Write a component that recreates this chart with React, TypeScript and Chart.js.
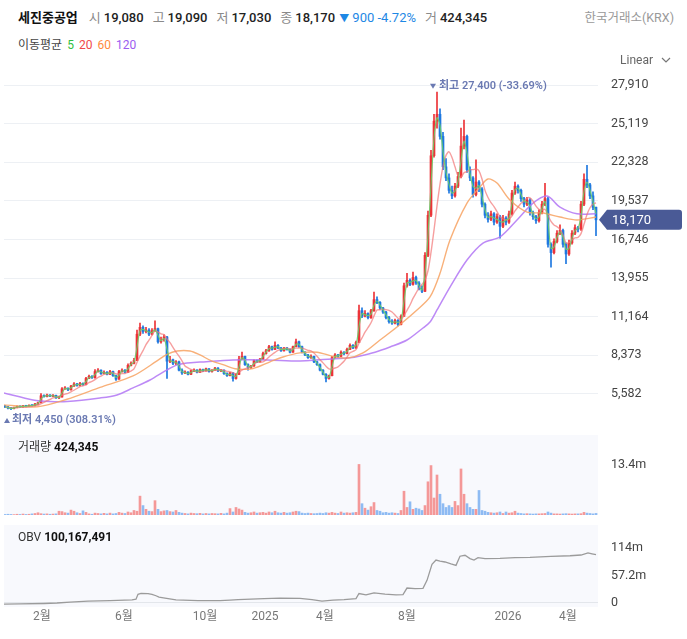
import { useEffect, useRef } from "react";
import { Chart, registerables } from "chart.js";

Chart.register(...registerables);

const FONT = "Roboto, 'Noto Sans CJK KR', 'Noto Sans', sans-serif";

// ---- candle data (each candle ~3 trading days) ----
const opens = [
  4700, 4640, 4570, 4520, 4600, 4690, 4640, 4720, 4690, 4760,
  4730, 4850, 4960, 5450, 5400, 5500, 5420, 5480, 5300, 5360,
  5950, 6000, 5880, 6150, 6300, 6200, 6350, 6260, 6700, 6850,
  6750, 7200, 7300, 7050, 7150, 7000, 7200, 6900, 6650, 7200,
  7300, 7150, 7650, 7800, 8000, 9900, 10400, 10100, 10200, 9900,
  10150, 10300, 9350, 9500, 9700, 7950, 8050, 7800, 7900, 7300,
  7100, 7150, 7000, 7250, 7300, 7150, 7350, 7250, 7400, 7200,
  7300, 7450, 7250, 7300, 7050, 6900, 7100, 6700, 7000, 8100,
  8300, 7700, 7500, 7600, 8000, 7900, 8100, 8500, 8700, 9000,
  8800, 9100, 8900, 8700, 8900, 8800, 8600, 9000, 9350, 9000,
  8600, 8400, 8200, 8300, 7900, 7700, 7300, 7000, 6700, 6900,
  8200, 8400, 8300, 8600, 8500, 8800, 9100, 8900, 9300, 11600,
  11200, 11400, 11100, 11600, 12400, 12200, 11800, 11500, 11100, 10800,
  10700, 10900, 10600, 11200, 13400, 13800, 13500, 14000, 13600, 13200,
  13000, 15600, 18500, 22800, 25300, 25800, 24200, 22000, 21200, 20300,
  19900, 20600, 21300, 23500, 24200, 21800, 21200, 20000, 20900, 20400,
  19300, 18500, 18200, 18600, 18000, 18400, 17700, 18300, 18000, 18600,
  20100, 20600, 20300, 19700, 19300, 19600, 18700, 18400, 18100, 18700,
  19300, 19700, 16400, 15800, 16600, 17200, 17400, 16400, 15700, 16500,
  17200, 17600, 17500, 19300, 21100, 20700, 19900, 19080,
];
const highs = [
  4760, 4680, 4610, 4640, 4720, 4720, 4760, 4750, 4800, 4790,
  4900, 5000, 5600, 5520, 5580, 5540, 5530, 5500, 5400, 6050,
  6120, 6030, 6200, 6400, 6350, 6420, 6380, 6780, 6950, 6900,
  7350, 7420, 7330, 7250, 7200, 7280, 7230, 6950, 7280, 7400,
  7350, 7750, 7900, 8150, 10200, 10700, 10500, 10400, 10300, 10300,
  10860, 10350, 9700, 9850, 9750, 8300, 8100, 8000, 7950, 7400,
  7250, 7200, 7300, 7400, 7350, 7400, 7380, 7450, 7420, 7350,
  7500, 7480, 7350, 7320, 7100, 7150, 7120, 7050, 8300, 8600,
  8320, 7750, 7650, 8050, 8050, 8150, 8600, 8800, 9100, 9050,
  9350, 9150, 8950, 8950, 8950, 8850, 9050, 9550, 9400, 9050,
  8650, 8450, 8400, 8320, 7950, 7750, 7350, 7050, 6950, 8300,
  8500, 8450, 8700, 8650, 8900, 9200, 9150, 9400, 12000, 11800,
  11600, 11450, 11700, 12950, 12600, 12250, 11850, 11550, 11200, 10950,
  11000, 10950, 11300, 13600, 14300, 13900, 14400, 14100, 13700, 13400,
  15800, 18800, 23200, 25800, 27400, 26200, 24500, 22600, 21500, 20600,
  20800, 21600, 24800, 25380, 24300, 22000, 21300, 22500, 21000, 20500,
  19400, 18700, 18800, 18700, 18600, 18500, 18500, 18400, 18800, 20300,
  20900, 20700, 20400, 19800, 19800, 19700, 18800, 18500, 18900, 19500,
  20800, 19800, 16500, 16800, 17400, 17800, 17500, 16500, 16700, 17400,
  17800, 17700, 19500, 21500, 22100, 20800, 20200, 19090,
];
const lows = [
  4580, 4500, 4450, 4490, 4570, 4600, 4610, 4650, 4660, 4700,
  4710, 4820, 4940, 5340, 5370, 5380, 5390, 5250, 5240, 5340,
  5900, 5820, 5860, 6120, 6150, 6170, 6200, 6240, 6680, 6700,
  6730, 7150, 7000, 7020, 6950, 6980, 6850, 6550, 6630, 7150,
  7100, 7120, 7600, 7750, 7980, 9800, 9950, 10000, 9800, 9850,
  10100, 9250, 9250, 9400, 6700, 7850, 7700, 7700, 7250, 7000,
  7050, 6950, 6980, 7200, 7100, 7120, 7200, 7230, 7150, 7150,
  7280, 7200, 7200, 7000, 6850, 6880, 6500, 6650, 6980, 8050,
  7650, 7300, 7400, 7580, 7850, 7880, 8080, 8450, 8650, 8750,
  8780, 8850, 8650, 8680, 8750, 8550, 8580, 8980, 8950, 8550,
  8350, 8150, 8150, 7850, 7650, 7250, 6950, 6450, 6650, 6880,
  8150, 8200, 8280, 8400, 8480, 8780, 8850, 8880, 9280, 11100,
  11150, 11000, 11050, 11550, 12100, 11700, 11400, 11000, 10700, 10600,
  10650, 10500, 10580, 11180, 13300, 13400, 13450, 13500, 13100, 12900,
  12980, 15500, 18400, 22700, 24800, 24000, 21800, 21000, 20100, 19700,
  19800, 20500, 21200, 23300, 21600, 21000, 19800, 19900, 20200, 19100,
  18300, 18000, 18100, 17800, 17900, 16850, 17600, 17800, 17900, 18500,
  20000, 20100, 19500, 19100, 19200, 18500, 18200, 17900, 18000, 18600,
  19200, 16200, 14750, 15700, 16500, 17100, 16200, 15000, 15600, 16400,
  17100, 17300, 17400, 19200, 20500, 19700, 18900, 17030,
];
const closes = [
  4650, 4560, 4520, 4600, 4680, 4640, 4720, 4690, 4760, 4730,
  4850, 4950, 5450, 5400, 5500, 5420, 5480, 5300, 5350, 5950,
  6000, 5880, 6150, 6300, 6200, 6350, 6250, 6700, 6850, 6750,
  7200, 7300, 7050, 7150, 7000, 7200, 6900, 6650, 7200, 7300,
  7150, 7650, 7800, 8000, 9900, 10400, 10100, 10200, 9900, 10150,
  10300, 9350, 9500, 9700, 7950, 8050, 7800, 7900, 7300, 7100,
  7150, 7000, 7250, 7300, 7150, 7350, 7250, 7400, 7200, 7300,
  7450, 7250, 7300, 7050, 6900, 7100, 6700, 7000, 8100, 8300,
  7700, 7500, 7600, 8000, 7900, 8100, 8500, 8700, 9000, 8800,
  9100, 8900, 8700, 8900, 8800, 8600, 9000, 9350, 9000, 8600,
  8400, 8200, 8300, 7900, 7700, 7300, 7000, 6700, 6900, 8200,
  8400, 8300, 8600, 8500, 8800, 9100, 8900, 9300, 11600, 11200,
  11400, 11100, 11600, 12400, 12200, 11800, 11500, 11100, 10800, 10700,
  10900, 10600, 11200, 13400, 13800, 13500, 14000, 13600, 13200, 13000,
  15600, 18500, 22800, 25300, 25800, 24200, 22000, 21200, 20300, 19900,
  20600, 21300, 23500, 24200, 21800, 21200, 20000, 20900, 20400, 19300,
  18500, 18200, 18600, 18000, 18400, 17700, 18300, 18000, 18600, 20100,
  20600, 20300, 19700, 19300, 19600, 18700, 18400, 18100, 18700, 19300,
  19700, 16400, 15800, 16600, 17200, 17400, 16400, 15700, 16500, 17200,
  17600, 17500, 19300, 21100, 20700, 19900, 19070, 18170,
];
const volumes = [
  150000, 200000, 150000, 100000, 200000, 150000, 250000, 150000, 200000, 300000,
  400000, 600000, 350000, 250000, 300000, 200000, 250000, 300000, 1000000, 900000,
  600000, 500000, 1300000, 1000000, 600000, 400000, 1100000, 700000, 300000, 200000,
  500000, 400000, 300000, 450000, 300000, 500000, 300000, 400000, 700000, 500000,
  400000, 800000, 600000, 1200000, 1000000, 5000000, 2500000, 1500000, 1000000, 900000,
  3800000, 1500000, 900000, 1100000, 1200000, 900000, 800000, 1200000, 700000, 500000,
  400000, 300000, 500000, 400000, 350000, 450000, 300000, 400000, 300000, 400000,
  350000, 300000, 450000, 300000, 500000, 1700000, 800000, 2000000, 1600000, 1300000,
  700000, 500000, 600000, 800000, 500000, 600000, 700000, 500000, 800000, 600000,
  1000000, 600000, 500000, 700000, 500000, 600000, 800000, 1000000, 900000, 500000,
  400000, 500000, 400000, 350000, 400000, 500000, 400000, 600000, 500000, 700000,
  500000, 400000, 800000, 500000, 600000, 500000, 600000, 700000, 13400000, 3000000,
  1800000, 1300000, 2200000, 3300000, 1200000, 1000000, 600000, 700000, 500000, 600000,
  500000, 400000, 1200000, 6300000, 2000000, 3500000, 1500000, 1800000, 1600000, 1200000,
  2500000, 8800000, 13100000, 4500000, 10600000, 5500000, 3000000, 2000000, 2500000, 2000000,
  3600000, 2500000, 12200000, 5500000, 3000000, 2000000, 1500000, 1500000, 6500000, 1200000,
  1000000, 700000, 600000, 500000, 600000, 800000, 400000, 800000, 500000, 600000,
  1000000, 500000, 400000, 300000, 350000, 300000, 250000, 300000, 300000, 350000,
  400000, 800000, 500000, 300000, 300000, 250000, 300000, 350000, 300000, 250000,
  300000, 300000, 350000, 700000, 500000, 400000, 300000, 424345,
];
const CANDLE_STEP = 3; // trading days per candle
const candleDays = closes.map((_, i) => i * CANDLE_STEP);

// ---- long moving averages (trading-day index) ----
const ma60Days = [-1, 32, 62, 95, 128, 152, 162, 172, 185, 195, 207, 218, 230, 248, 265, 278, 295, 312, 328, 343, 358, 375, 392, 412, 425, 435, 445, 462, 475, 483, 492, 505, 522, 538, 555, 572, 591];
const ma60Values = [4790, 4650, 5200, 6050, 6880, 7970, 8450, 8690, 8690, 8400, 7950, 7700, 7400, 7420, 7900, 8255, 8550, 8600, 8300, 8180, 8545, 9480, 10420, 11650, 12590, 14300, 16710, 19380, 20540, 21120, 20830, 19600, 18730, 18660, 18370, 18160, 18370];
const ma120Days = [-1, 28, 45, 62, 95, 112, 128, 145, 162, 172, 182, 195, 228, 262, 295, 318, 328, 345, 355, 370, 385, 402, 418, 425, 432, 445, 462, 478, 495, 512, 528, 542, 555, 572, 591];
const ma120Values = [5650, 5150, 5030, 5030, 5290, 5510, 6020, 6590, 7320, 7680, 7820, 7890, 8040, 8040, 7970, 8080, 8110, 8200, 8330, 8600, 8980, 9480, 10350, 10780, 11650, 13310, 15260, 16490, 16930, 18160, 19380, 19890, 19090, 18600, 18600];

// ---- OBV ----
const obvDays = [-1, 15, 39, 52, 65, 83, 105, 127, 131, 133, 136, 143, 147, 151, 154, 160, 171, 193, 215, 225, 233, 259, 275, 295, 307, 317, 328, 339, 351, 354, 361, 369, 380, 391, 398, 402, 410, 418, 422, 427, 431, 435, 440, 446, 451, 455, 460, 465, 469, 473, 480, 495, 510, 525, 546, 565, 576, 583, 587, 591];
const obvValues = [-2.5e6, -2e6, -1e6, 0, 2e6, 4e6, 5e6, 6.5e6, 8e6, 18e6, 20e6, 19.5e6, 18e6, 15e6, 12e6, 10e6, 6.5e6, 5e6, 5e6, 6e6, 7e6, 9e6, 10e6, 9.5e6, 7e6, 4e6, 6e6, 7e6, 9e6, 19.6e6, 17e6, 21e6, 18.5e6, 17e6, 17.5e6, 31e6, 30e6, 30.5e6, 47e6, 80e6, 89e6, 87e6, 85e6, 81e6, 78e6, 97e6, 99e6, 92e6, 89e6, 94e6, 92e6, 92.5e6, 94e6, 94.5e6, 96.5e6, 98e6, 99.5e6, 104e6, 102e6, 100167491];

// ---- axis ticks ----
const priceTicks = [5582, 8373, 11164, 13955, 16746, 19537, 22328, 25119, 27910];
const volumeTicks = [13.4e6];
const obvTicks = [0, 57.2e6, 114e6];
const xTickDays = [37, 119, 200, 260, 320, 402, 503, 563];
const xTickLabels = ["2월", "6월", "10월", "2025", "4월", "8월", "2026", "4월"];

const MA_PERIODS = [5, 20, 60, 120];
const MA_COLORS = ["#2fbf3f", "#f0484a", "#ff8a3d", "#9b5cf0"];

const UP = "#ec3338";
const DOWN = "#1e78e0";
const VOL_UP = "#f49898";
const VOL_DOWN = "#8ebbf3";
const TAG = "#4a5a96";
const NOTE = "#6a79b2";

const X_MIN = -1;
const X_MAX = 593;
const AXIS_W = 89;

const fmt = (v: number) => Math.round(v).toLocaleString("en-US");
const fmtM = (v: number) => (v === 0 ? "0" : `${+(v / 1e6).toFixed(1)}m`);

function movingAverage(values: number[], window: number) {
  return values.map((_, i) => {
    const s = Math.max(0, i - window + 1);
    const slice = values.slice(s, i + 1);
    return slice.reduce((a, b) => a + b, 0) / slice.length;
  });
}

const pts = (days: number[], vals: number[]) => vals.map((v, i) => ({ x: days[i], y: v }));

const xHidden = () => ({
  type: "linear",
  min: X_MIN,
  max: X_MAX,
  offset: false,
  display: false,
  grid: { offset: false },
});

const rightAxis = (min: number, max: number, ticks: number[], cb: (v: number) => string, gridColor: any) => ({
  type: "linear",
  position: "right",
  min,
  max,
  beginAtZero: false,
  afterFit: (s: any) => {
    s.width = AXIS_W;
    s.paddingTop = 0;
    s.paddingBottom = 0;
  },
  afterBuildTicks: (s: any) => {
    s.ticks = ticks.map((v) => ({ value: v }));
  },
  grid: { color: gridColor, drawTicks: false },
  border: { display: false },
  ticks: {
    padding: 13,
    color: "#444",
    font: { size: 12.5, family: FONT },
    callback: (v: any) => cb(Number(v)),
  },
});

const panelBg = {
  id: "panelBg",
  beforeDraw(chart: any) {
    const { ctx, chartArea } = chart;
    ctx.save();
    ctx.fillStyle = "#f8f9fd";
    ctx.fillRect(chartArea.left, chartArea.top, chartArea.right - chartArea.left, chartArea.bottom - chartArea.top);
    ctx.restore();
  },
};

function triangle(ctx: any, cx: number, cy: number, up: boolean) {
  ctx.beginPath();
  if (up) {
    ctx.moveTo(cx - 3, cy + 2.5);
    ctx.lineTo(cx + 3, cy + 2.5);
    ctx.lineTo(cx, cy - 2.5);
  } else {
    ctx.moveTo(cx - 3, cy - 2.5);
    ctx.lineTo(cx + 3, cy - 2.5);
    ctx.lineTo(cx, cy + 2.5);
  }
  ctx.closePath();
  ctx.fill();
}

const priceOverlay = {
  id: "priceOverlay",
  afterDatasetsDraw(chart: any) {
    const { ctx, chartArea } = chart;
    const x = chart.scales.x;
    const y = chart.scales.y;
    let hi = 0;
    let lo = 0;
    highs.forEach((v, i) => {
      if (v > highs[hi]) hi = i;
    });
    lows.forEach((v, i) => {
      if (v < lows[lo]) lo = i;
    });
    const last = closes[closes.length - 1];
    ctx.save();
    ctx.textBaseline = "middle";
    ctx.textAlign = "left";
    ctx.font = `600 11px ${FONT}`;
    ctx.fillStyle = NOTE;

    const hx = x.getPixelForValue(candleDays[hi]);
    const hy = y.getPixelForValue(highs[hi]) - 6;
    const hiPct = (((last - highs[hi]) / highs[hi]) * 100).toFixed(2);
    triangle(ctx, hx - 4, hy, false);
    ctx.fillText(`최고 ${fmt(highs[hi])} (${hiPct}%)`, hx + 2, hy);

    const lx = x.getPixelForValue(candleDays[lo]);
    const ly = y.getPixelForValue(lows[lo]) + 11;
    const loPct = (((last - lows[lo]) / lows[lo]) * 100).toFixed(2);
    const tx = Math.max(chartArea.left + 3, lx - 4);
    triangle(ctx, tx, ly, true);
    ctx.fillText(`최저 ${fmt(lows[lo])} (${loPct}%)`, tx + 5, ly);

    // last price tag
    const cy = y.getPixelForValue(last);
    const l = chartArea.right + 1;
    const r = chart.width - 5;
    const h = 10;
    ctx.fillStyle = TAG;
    ctx.beginPath();
    ctx.moveTo(l, cy);
    ctx.lineTo(l + 8, cy - h);
    ctx.lineTo(r - 3, cy - h);
    ctx.quadraticCurveTo(r, cy - h, r, cy - h + 3);
    ctx.lineTo(r, cy + h - 3);
    ctx.quadraticCurveTo(r, cy + h, r - 3, cy + h);
    ctx.lineTo(l + 8, cy + h);
    ctx.closePath();
    ctx.fill();
    ctx.fillStyle = "#ffffff";
    ctx.font = `13px ${FONT}`;
    ctx.fillText(fmt(last), chartArea.right + 14, cy + 0.5);
    ctx.restore();
  },
};

function buildPrice(canvas: HTMLCanvasElement) {
  const ma5 = movingAverage(closes, 2);
  const ma20 = movingAverage(closes, 7);
  const candleColor = (c: any) => (closes[c.dataIndex] >= opens[c.dataIndex] ? UP : DOWN);
  const line = (data: any, color: string, width: number) => ({
    type: "line",
    data,
    borderColor: color,
    borderWidth: width,
    pointRadius: 0,
    tension: 0.3,
    order: 0,
  });
  return new Chart(canvas, {
    type: "bar",
    data: {
      datasets: [
        line(pts(candleDays, ma5), "rgba(105,205,105,0.9)", 1.2),
        line(pts(candleDays, ma20), "rgba(242,118,118,0.7)", 1.4),
        line(pts(ma60Days, ma60Values), "rgba(247,162,98,0.85)", 1.4),
        line(pts(ma120Days, ma120Values), "rgba(178,118,245,0.85)", 1.5),
        {
          type: "bar",
          data: closes.map((c, i) => ({ x: candleDays[i], y: [opens[i], c] })),
          backgroundColor: candleColor,
          barThickness: 2,
          minBarLength: 1,
          grouped: false,
          order: 1,
        },
        {
          type: "bar",
          data: closes.map((_, i) => ({ x: candleDays[i], y: [lows[i], highs[i]] })),
          backgroundColor: candleColor,
          barThickness: 1,
          grouped: false,
          order: 2,
        },
      ] as any,
    },
    options: {
      responsive: false,
      animation: false,
      layout: { padding: { left: 4, right: 0, top: 8, bottom: 2 } },
      plugins: { legend: { display: false }, tooltip: { enabled: false } },
      scales: {
        x: xHidden() as any,
        y: rightAxis(2830, 29000, priceTicks, fmt, "#edf0f4") as any,
      },
    },
    plugins: [priceOverlay],
  });
}

function buildVolume(canvas: HTMLCanvasElement) {
  return new Chart(canvas, {
    type: "bar",
    data: {
      datasets: [
        {
          data: volumes.map((v, i) => ({ x: candleDays[i], y: v })),
          backgroundColor: (c: any) => (closes[c.dataIndex] >= opens[c.dataIndex] ? VOL_UP : VOL_DOWN),
          barThickness: 2,
          grouped: false,
        },
      ] as any,
    },
    options: {
      responsive: false,
      animation: false,
      layout: { padding: { left: 4, right: 0, top: 1, bottom: 3 } },
      plugins: { legend: { display: false }, tooltip: { enabled: false } },
      scales: {
        x: xHidden() as any,
        y: rightAxis(0, 21.2e6, volumeTicks, fmtM, "rgba(0,0,0,0)") as any,
      },
    },
    plugins: [panelBg],
  });
}

function buildObv(canvas: HTMLCanvasElement) {
  return new Chart(canvas, {
    type: "line",
    data: {
      datasets: [
        {
          data: pts(obvDays, obvValues),
          borderColor: "#9b9b9b",
          borderWidth: 1.3,
          pointRadius: 0,
        },
      ] as any,
    },
    options: {
      responsive: false,
      animation: false,
      layout: { padding: { left: 4, right: 0, top: 7, bottom: 0 } },
      plugins: { legend: { display: false }, tooltip: { enabled: false } },
      scales: {
        x: {
          type: "linear",
          min: X_MIN,
          max: X_MAX,
          offset: false,
          position: "bottom",
          afterFit: (s: any) => {
            s.height = 32;
            s.paddingLeft = 0;
            s.paddingRight = 0;
          },
          afterBuildTicks: (s: any) => {
            s.ticks = xTickDays.map((v) => ({ value: v }));
          },
          grid: { display: false, drawTicks: false },
          border: { display: false },
          ticks: {
            autoSkip: false,
            maxRotation: 0,
            padding: 3,
            color: "#777",
            font: { size: 12, family: FONT },
            callback: (_v: any, i: number) => xTickLabels[i],
          },
        } as any,
        y: rightAxis(-8.3e6, 161.7e6, obvTicks, fmtM, (c: any) =>
          c.tick && c.tick.value === 0 ? "#e3e6eb" : "rgba(0,0,0,0)"
        ) as any,
      },
    },
    plugins: [panelBg],
  });
}

export default function App() {
  const priceRef = useRef<HTMLCanvasElement>(null);
  const volRef = useRef<HTMLCanvasElement>(null);
  const obvRef = useRef<HTMLCanvasElement>(null);

  useEffect(() => {
    Chart.defaults.font.family = FONT;
    const charts = [
      buildPrice(priceRef.current!),
      buildVolume(volRef.current!),
      buildObv(obvRef.current!),
    ];
    return () => charts.forEach((c) => c.destroy());
  }, []);

  const n = closes.length;
  const last = closes[n - 1];
  const prev = closes[n - 2];
  const diff = last - prev;
  const pct = ((diff / prev) * 100).toFixed(2);
  const lbl = { color: "#8a8a8a", marginLeft: 9, marginRight: 3 } as const;
  const val = { fontWeight: 500, color: "#222" } as const;

  const canvasStyle = (top: number, h: number) =>
    ({ position: "absolute", left: 0, top, width: 687, height: h, display: "block" } as const);

  return (
    <div
      style={{
        position: "absolute",
        left: 0,
        top: 0,
        width: 687,
        height: 639,
        overflow: "hidden",
        background: "#fff",
        fontFamily: FONT,
      }}
    >
      <canvas ref={priceRef} width={687} height={372} style={canvasStyle(62, 372)} />
      <canvas ref={volRef} width={687} height={84} style={canvasStyle(434, 84)} />
      <canvas ref={obvRef} width={687} height={121} style={canvasStyle(518, 121)} />

      <div style={{ position: "absolute", left: 18, top: 9, fontSize: 13, lineHeight: "18px", whiteSpace: "nowrap", color: "#222" }}>
        <span style={{ fontWeight: 700, color: "#111" }}>세진중공업</span>
        <span style={{ ...lbl, marginLeft: 11 }}>시</span>
        <span style={val}>{fmt(opens[n - 1])}</span>
        <span style={lbl}>고</span>
        <span style={val}>{fmt(highs[n - 1])}</span>
        <span style={lbl}>저</span>
        <span style={val}>{fmt(lows[n - 1])}</span>
        <span style={lbl}>종</span>
        <span style={val}>{fmt(last)}</span>
        <span style={{ color: "#1e88e5", marginLeft: 4 }}>
          <span style={{ fontSize: 10 }}>▼</span> {fmt(Math.abs(diff))} {pct}%
        </span>
        <span style={lbl}>거</span>
        <span style={val}>{fmt(volumes[n - 1])}</span>
      </div>
      <div style={{ position: "absolute", right: 13, top: 9, fontSize: 12.5, lineHeight: "18px", color: "#999" }}>한국거래소(KRX)</div>

      <div style={{ position: "absolute", left: 18, top: 36, fontSize: 12, lineHeight: "18px", color: "#444", whiteSpace: "nowrap" }}>
        이동평균
        {MA_PERIODS.map((p, i) => (
          <span key={p} style={{ color: MA_COLORS[i], marginLeft: 5 }}>
            {p}
          </span>
        ))}
      </div>

      <div style={{ position: "absolute", right: 16, top: 51, fontSize: 12, lineHeight: "18px", color: "#666", display: "flex", alignItems: "center" }}>
        Linear
        <svg width="10" height="6" style={{ marginLeft: 8 }}>
          <polyline points="1,1 5,5 9,1" fill="none" stroke="#777" strokeWidth="1.2" />
        </svg>
      </div>

      <div style={{ position: "absolute", left: 18, top: 438, fontSize: 12, lineHeight: "18px", color: "#333", whiteSpace: "nowrap" }}>
        거래량 <b style={{ color: "#111" }}>{fmt(volumes[n - 1])}</b>
      </div>
      <div style={{ position: "absolute", left: 18, top: 528, fontSize: 12, lineHeight: "18px", color: "#333", whiteSpace: "nowrap" }}>
        OBV <b style={{ color: "#111" }}>{fmt(obvValues[obvValues.length - 1])}</b>
      </div>
    </div>
  );
}
